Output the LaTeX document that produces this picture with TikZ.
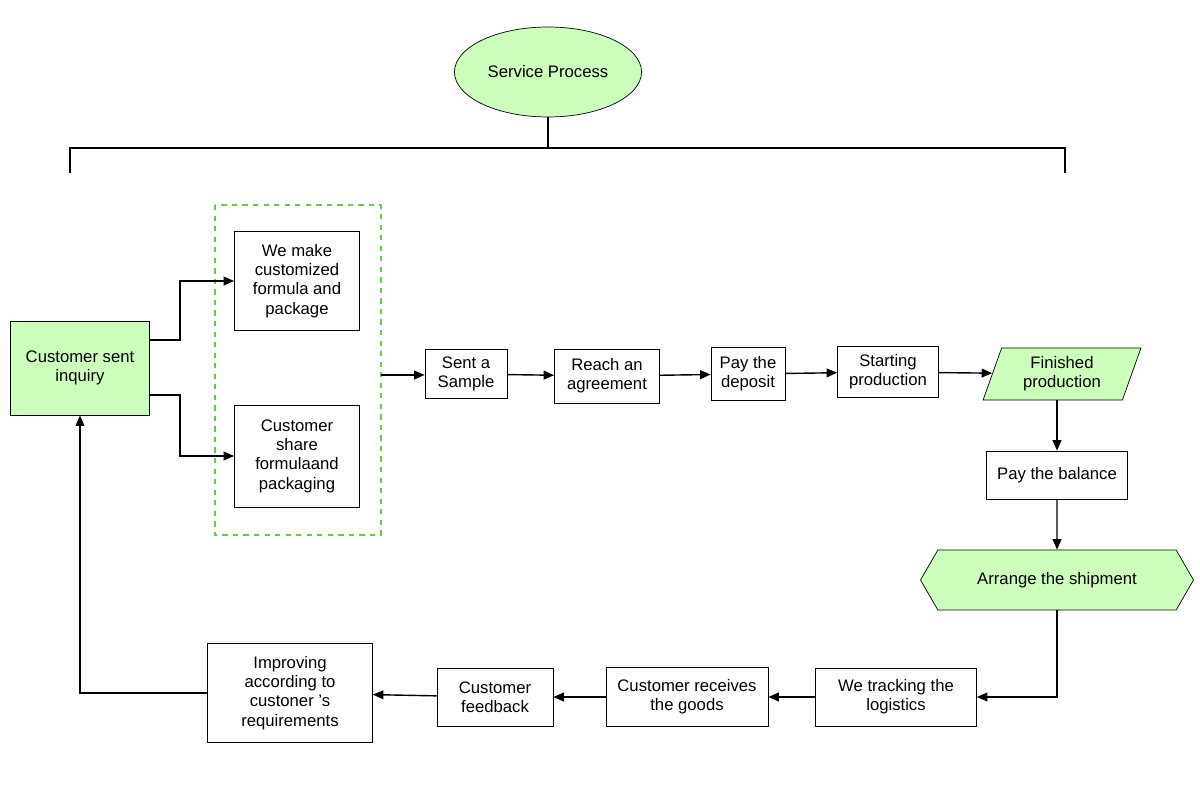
\documentclass[tikz,border=0pt]{standalone}
\usepackage{fontspec}
\setmainfont{Liberation Sans}
\usetikzlibrary{arrows.meta,shapes.geometric,shapes.symbols}
\definecolor{procgreen}{RGB}{204,255,187}
\definecolor{dashgreen}{RGB}{102,204,68}

\begin{document}
\begin{tikzpicture}[x=0.02cm,y=-0.02cm,
    font=\fontsize{9.5}{11}\selectfont,
    >={Triangle[length=6pt,width=5pt]},
    flow/.style={draw=black,thick,->},
    stepbox/.style={draw=black,fill=white,align=center,inner sep=1pt},
    greenbox/.style={stepbox,fill=procgreen}]
                    % canvas
                    \useasboundingbox (0,0) rectangle (1200,787);

                    % title and bracket
                    \node[ellipse,draw=black,fill=procgreen,minimum width=3.68cm,minimum height=1.8cm] (title) at (548,72) {Service Process};
                    \coordinate (bl) at (70,173);
                    \coordinate (br) at (1065,173);
                    \draw[thick] (title.south) -- (548,148);
                    \draw[thick] (bl) -- (70,148) -- (1065,148) -- (br);

                    % first column
                    \node[greenbox,minimum width=2.78cm,minimum height=1.88cm] (inquiry) at (80,368) {Customer sent\\inquiry};
                    \draw[dashgreen,thick,dashed] (215,205) rectangle (381,535);
                    \coordinate (group) at (381,375);
                    \coordinate (upout) at (150,340);
                    \coordinate (downout) at (150,395);
                    \node[stepbox,minimum width=2.5cm,minimum height=1.98cm] (custom) at (297,281) {We make\\customized\\formula and\\package};
                    \node[stepbox,minimum width=2.5cm,minimum height=2.04cm] (share) at (297,456) {Customer\\share\\formulaand\\packaging};
                    \draw[flow] (upout) -- (180,340) |- (custom.west);
                    \draw[flow] (downout) -- (180,395) |- (share.west);

                    % upper row
                    \node[stepbox,minimum width=1.64cm,minimum height=0.98cm] (sample) at (466,374) {Sent a\\Sample};
                    \node[stepbox,minimum width=2.1cm,minimum height=1.08cm] (agree) at (607,376) {Reach an\\agreement};
                    \node[stepbox,minimum width=1.48cm,minimum height=1.06cm] (deposit) at (748,374) {Pay the\\deposit};
                    \node[stepbox,minimum width=2.02cm,minimum height=1.02cm] (start) at (888,372) {Starting\\production};
                    \node[trapezium,trapezium left angle=72,trapezium right angle=108,trapezium stretches=true,draw=black,fill=procgreen,align=center,minimum width=3.16cm,minimum height=1.04cm,inner sep=1pt] (finished) at (1062,374) {Finished\\production};
                    \draw[flow] (group) -- (sample.west |- group);
                    \draw[flow] (sample) -- (agree);
                    \draw[flow] (agree) -- (deposit);
                    \draw[flow] (deposit) -- (start);
                    \draw[flow] (start) -- (finished);

                    % right column
                    \node[stepbox,minimum width=2.82cm,minimum height=0.96cm] (balance) at (1057,475) {Pay the balance};
                    \node[signal,signal to=west and east,signal pointer angle=120,draw=black,fill=procgreen,minimum width=5.46cm,minimum height=1.2cm] (ship) at (1057,580) {Arrange the shipment};
                    \draw[flow] (finished.south -| balance) -- (balance);
                    \draw[flow] (balance) -- (ship);

                    % lower row
                    \node[stepbox,minimum width=3.22cm,minimum height=1.16cm] (track) at (896,697) {We tracking the\\logistics};
                    \node[stepbox,minimum width=3.24cm,minimum height=1.18cm] (receive) at (687,697) {Customer receives\\the goods};
                    \node[stepbox,minimum width=2.32cm,minimum height=1.16cm] (feedback) at (495,697) {Customer\\feedback};
                    \node[stepbox,minimum width=3.3cm,minimum height=1.98cm] (improve) at (290,693) {Improving\\according to\\custoner 's\\requirements};
                    \draw[flow] (ship.south) |- (track.east);
                    \draw[flow] (track) -- (receive);
                    \draw[flow] (receive) -- (feedback);
                    \draw[flow] (feedback) -- (improve);
                    \draw[flow] (improve.west) -| (inquiry.south);
\end{tikzpicture}
\end{document}
